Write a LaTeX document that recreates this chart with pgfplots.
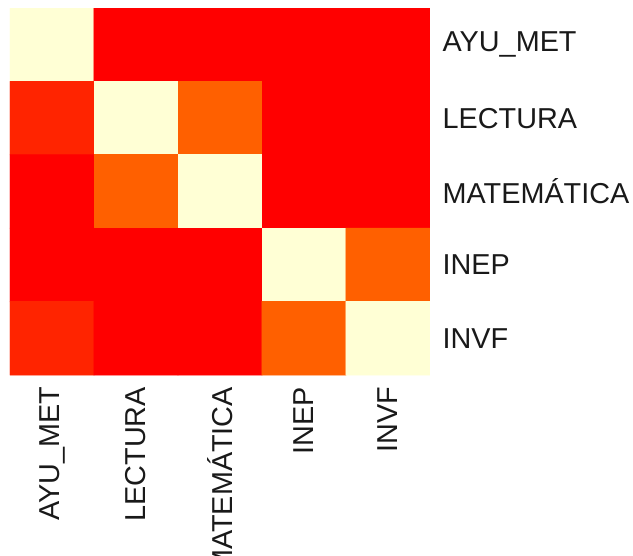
\documentclass[border=0pt]{standalone}
\usepackage{pgfplots}
\pgfplotsset{compat=1.18}
\usepackage{fontspec}
\setmainfont{Liberation Sans}
\begin{document}
\begin{tikzpicture}
\begin{axis}[
  scale only axis, width=210pt, height=183.5pt,
  xmin=-0.5, xmax=4.5, ymin=-0.5, ymax=4.5,
  y dir=reverse,
  axis line style={draw=none},
  tick style={draw=none},
  xtick={0,1,2,3,4}, ytick={0,1,2,3,4},
  xticklabels={AYU\_MET,LECTURA,MATEMÁTICA,INEP,INVF},
  yticklabels={AYU\_MET,LECTURA,MATEMÁTICA,INEP,INVF},
  yticklabel pos=right,
  ticklabel style={font=\fontsize{14.4}{17}\selectfont, text=black!90},
  x tick label style={rotate=90, anchor=east},
  xticklabel shift=2.5pt,
  yticklabel shift=2.8pt,
  colormap={heat}{rgb255=(255,0,0) rgb255=(255,36,0) rgb255=(255,96,0) rgb255=(255,255,213)},
  colormap access=direct,
]
\addplot[matrix plot*, mesh/cols=5, point meta=explicit] table[meta=c] {
x y c
0 0 3
1 0 0
2 0 0
3 0 0
4 0 0
0 1 1
1 1 3
2 1 2
3 1 0
4 1 0
0 2 0
1 2 2
2 2 3
3 2 0
4 2 0
0 3 0
1 3 0
2 3 0
3 3 3
4 3 2
0 4 1
1 4 0
2 4 0
3 4 2
4 4 3
};
\end{axis}
\pgfresetboundingbox
\path (current axis.south west) ++(-5pt,-90.5pt) rectangle ++(316.5pt,278pt);
\end{tikzpicture}
\end{document}
